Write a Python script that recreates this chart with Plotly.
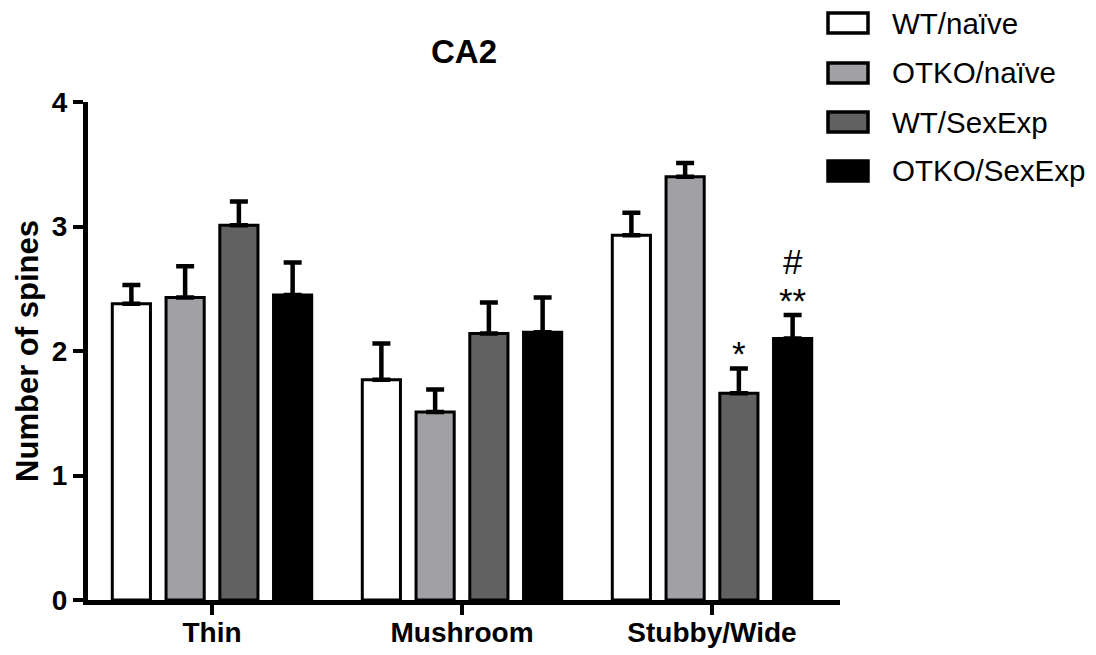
import plotly.graph_objects as go

# Dendritic spine counts in CA2, by spine type and group (mean and SEM)
categories = ["Thin", "Mushroom", "Stubby/Wide"]
groups = ["WT/naïve", "OTKO/naïve", "WT/SexExp", "OTKO/SexExp"]
means = {
    "WT/naïve":    [2.38, 1.77, 2.93],
    "OTKO/naïve":  [2.43, 1.51, 3.40],
    "WT/SexExp":   [3.01, 2.14, 1.66],
    "OTKO/SexExp": [2.45, 2.15, 2.10],
}
sems = {
    "WT/naïve":    [0.15, 0.29, 0.18],
    "OTKO/naïve":  [0.25, 0.18, 0.11],
    "WT/SexExp":   [0.19, 0.25, 0.20],
    "OTKO/SexExp": [0.26, 0.28, 0.19],
}
fills = ["#ffffff", "#a1a1a5", "#616161", "#000000"]
y_ticks = [0, 1, 2, 3, 4]

# significance marks above the error caps: (category, group, lines top-down)
marks = [
    ("Stubby/Wide", "WT/SexExp", ["*"]),
    ("Stubby/Wide", "OTKO/SexExp", ["#", "**"]),
]

FONT = "Liberation Sans, Arial, sans-serif"
W, H = 1096, 655
ML, MR, MT, MB = 88, 256, 102, 55
BARGAP = 0.14
BARGROUPGAP = 0.29

fig = go.Figure()
for g, c in zip(groups, fills):
    fig.add_trace(go.Bar(
        name=g,
        x=categories,
        y=means[g],
        marker=dict(color=c, line=dict(color="#000000", width=3)),
        error_y=dict(type="data", symmetric=False, array=sems[g],
                     arrayminus=[0] * len(categories),
                     color="#000000", thickness=4.5, width=9),
        showlegend=False,
    ))

# significance annotations; the base size sets the spacing of stacked lines
slot = (1 - BARGAP) / len(groups)
for cat, g, lines in marks:
    i = categories.index(cat)
    j = groups.index(g)
    xpos = i + (j - (len(groups) - 1) / 2) * slot
    top = means[g][i] + sems[g][i]
    text = "<br>".join(f'<span style="font-size:35px">{t}</span>' for t in lines)
    fig.add_annotation(
        x=xpos, y=top, xref="x", yref="y",
        text=text, showarrow=False, yanchor="bottom",
        yshift=-7,
        font=dict(family=FONT, size=30, color="#000000"),
    )

# legend drawn as boxes with labels to the right of the plot
pw = W - ML - MR
ph = H - MT - MB
def px_x(px):
    return (px - ML) / pw
def px_y(py):
    return (H - MB - py) / ph

row_y = [23, 73, 122, 171]
for g, c, yc in zip(groups, fills, row_y):
    fig.add_shape(
        type="rect", xref="paper", yref="paper",
        x0=px_x(828), x1=px_x(868), y0=px_y(yc + 10), y1=px_y(yc - 10),
        fillcolor=c, line=dict(color="#000000", width=3.5),
    )
    fig.add_annotation(
        x=px_x(890), y=px_y(yc), xref="paper", yref="paper",
        text=g, showarrow=False, xanchor="left", yanchor="middle",
        font=dict(family=FONT, size=29.5, color="#000000"),
    )

fig.update_layout(
    width=W, height=H,
    margin=dict(l=ML, r=MR, t=MT, b=MB),
    paper_bgcolor="#ffffff", plot_bgcolor="#ffffff",
    barmode="group", bargap=BARGAP, bargroupgap=BARGROUPGAP,
    title=dict(text="<b>CA2</b>", x=0.5, xref="paper", xanchor="center",
               y=1 - 51 / H, yref="container", yanchor="middle",
               font=dict(family=FONT, size=33, color="#000000")),
    font=dict(family=FONT, color="#000000"),
)
fig.update_xaxes(
    type="category", range=[-0.496, 2.512], automargin=False,
    showline=True, linecolor="#000000", linewidth=5,
    ticks="outside", ticklen=10, tickwidth=4, tickcolor="#000000",
    ticklabelstandoff=-7,
    tickfont=dict(family=FONT, size=28, color="#000000", weight="bold"),
    showgrid=False, zeroline=False,
)
fig.update_yaxes(
    range=[0, 4], tickvals=y_ticks, automargin=False,
    showline=True, linecolor="#000000", linewidth=5,
    ticks="outside", ticklen=10, tickwidth=4, tickcolor="#000000",
    tickfont=dict(family=FONT, size=28, color="#000000", weight="bold"),
    title=dict(text="<b>Number of spines</b>", standoff=5,
               font=dict(family=FONT, size=31, color="#000000")),
    showgrid=False, zeroline=False,
)

fig.write_html("out.html")
